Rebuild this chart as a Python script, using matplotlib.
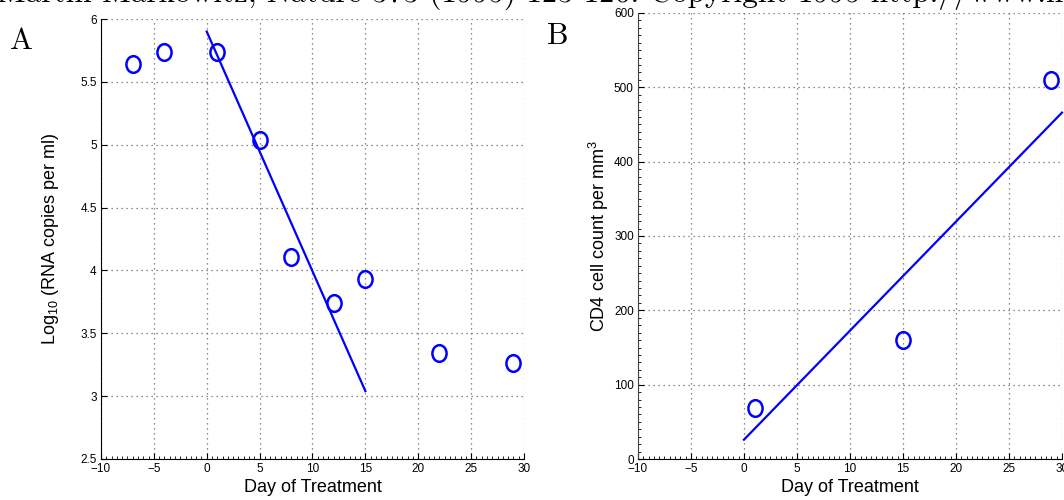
import numpy as np
import matplotlib
matplotlib.use('Agg')
import matplotlib.pyplot as plt
from matplotlib.ticker import MultipleLocator, AutoMinorLocator, FormatStrFormatter
from matplotlib.path import Path
from matplotlib.transforms import Affine2D

plt.rcParams['font.family'] = ['Liberation Sans', 'DejaVu Sans']
plt.rcParams['mathtext.default'] = 'regular'

# panel A: viral load
days_rna = [-7, -4, 1, 5, 8, 12, 15, 22, 29]
log_rna = [5.64, 5.74, 5.74, 5.04, 4.11, 3.74, 3.93, 3.34, 3.26]
fit_rna_x = [0, 15]
fit_rna_y = [5.90, 3.04]

# panel B: CD4 counts
days_cd4 = [1, 15, 29]
cd4 = [68, 160, 510]
fit_cd4_x = [0, 30]
fit_cd4_y = [26, 466]

xticks = np.arange(-10, 31, 5)
header = 'Martin Markowitz, Nature 373 (1995) 123-126. Copyright 1995 http://www.nature.com'

# slightly tall ellipse, like the matlab 'o'
ell = Path.unit_circle().transformed(Affine2D().scale(0.85, 1.0))

fig = plt.figure(figsize=(10.64, 5), dpi=100)
axA = fig.add_axes([0.0949, 0.082, 0.3976, 0.88])
axB = fig.add_axes([0.5996, 0.082, 0.3985, 0.892])


def style(ax):
    for s in ['top', 'right']:
        ax.spines[s].set_visible(False)
    ax.grid(True, which='major', linestyle=(0, (1, 3)), color='#666666', linewidth=0.9)
    ax.tick_params(which='both', direction='in', labelsize=8.5, pad=3)
    ax.tick_params(which='major', length=4)
    ax.tick_params(which='minor', length=2)
    ax.set_xlim(-10, 30)
    ax.set_xticks(xticks)
    ax.xaxis.set_minor_locator(AutoMinorLocator(10))
    ax.set_xlabel('Day of Treatment', fontsize=13, labelpad=3)


style(axA)
axA.plot(fit_rna_x, fit_rna_y, color='blue', lw=1.6)
axA.plot(days_rna, log_rna, linestyle='none', marker=ell, ms=12, mfc='none', mec='blue', mew=1.8, clip_on=False)
axA.set_ylim(2.5, 6)
axA.yaxis.set_major_locator(MultipleLocator(0.5))
axA.yaxis.set_major_formatter(FormatStrFormatter('%g'))
axA.set_ylabel('Log$_{10}$ (RNA copies per ml)', fontsize=13, labelpad=14)

style(axB)
axB.plot(fit_cd4_x, fit_cd4_y, color='blue', lw=1.6, clip_on=False)
axB.plot(days_cd4, cd4, linestyle='none', marker=ell, ms=12, mfc='none', mec='blue', mew=1.8, clip_on=False)
axB.set_ylim(0, 600)
axB.yaxis.set_major_locator(MultipleLocator(100))
axB.yaxis.set_minor_locator(AutoMinorLocator(10))
axB.spines['left'].set_color('#444444')
axB.set_ylabel('CD4 cell count per mm$^3$', fontsize=13, labelpad=2)

fig.text(0.009, 0.902, 'A', fontsize=22, family='cmr10', va='baseline')
fig.text(0.514, 0.912, 'B', fontsize=22, family='cmr10', va='baseline')
fig.text(-0.003, 0.997, header, fontsize=22.5, family='cmr10', va='baseline')

fig.savefig('out.png', dpi=100)
